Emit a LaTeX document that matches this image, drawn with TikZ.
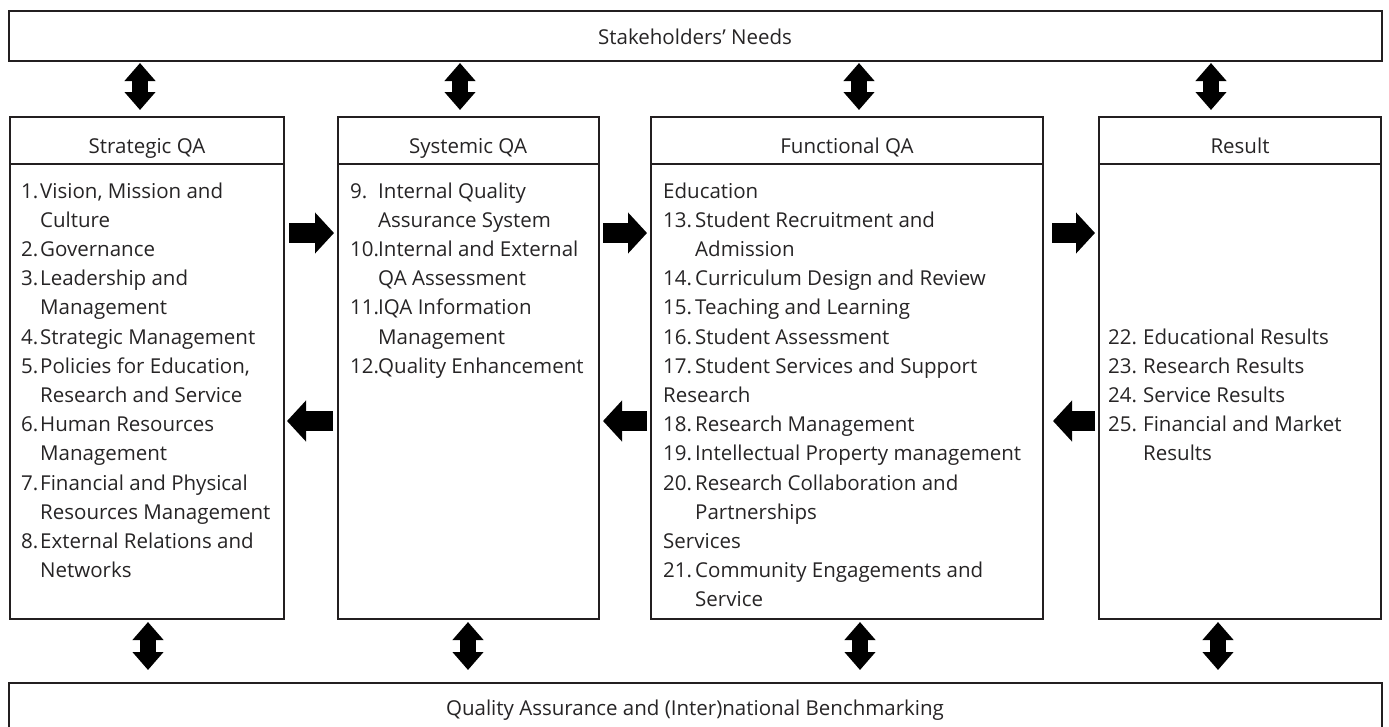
\documentclass[tikz,border=0pt]{standalone}
\usepackage{fontspec}
\setmainfont{Open Sans}
\usetikzlibrary{arrows.meta}
\definecolor{ln}{RGB}{35,31,32}
\definecolor{tx}{RGB}{38,36,37}
\newcommand\qaline[6]{%
  \node[txt] (#1n) at (#2,{198+29.2*#4}) {#5};
  \node[txt] (#1t) at (#3,{198+29.2*#4}) {#6};}
\newcommand\qatext[4]{%
  \node[txt] (#1) at (#2,{198+29.2*#3}) {#4};}
\begin{document}
\begin{tikzpicture}[x=1pt,y=-1pt,
  box/.style={draw=ln, line width=2.9pt, inner sep=0pt, outer sep=0pt, anchor=north west},
  txt/.style={anchor=base west, inner sep=0pt, text=tx, font=\fontsize{20.5}{22}\selectfont},
  head/.style={anchor=base, inner sep=0pt, text=tx, font=\fontsize{20.5}{22}\selectfont},
  dbl/.style={line width=16pt, draw=black, {Triangle[width=30pt,length=18pt]}-{Triangle[width=30pt,length=18pt]}},
  rarr/.style={line width=20pt, draw=black, -{Triangle[width=40pt,length=19pt]}},
]
\useasboundingbox (0,0) rectangle (1389,726);
\clip (0,0) rectangle (1389,726);

% boxes
\node[box, minimum width=1373pt, minimum height=50pt] (top) at (9,11) {};
\node[box, minimum width=1373pt, minimum height=48pt] (bot) at (9,683) {};
\node[box, minimum width=274pt, minimum height=47pt] (sh) at (10,117) {};
\node[box, minimum width=274pt, minimum height=455pt] (sb) at (10,164) {};
\node[box, minimum width=261pt, minimum height=47pt] (yh) at (338,117) {};
\node[box, minimum width=261pt, minimum height=455pt] (yb) at (338,164) {};
\node[box, minimum width=392pt, minimum height=47pt] (fh) at (651,117) {};
\node[box, minimum width=392pt, minimum height=455pt] (fb) at (651,164) {};
\node[box, minimum width=282pt, minimum height=47pt] (rh) at (1099,117) {};
\node[box, minimum width=282pt, minimum height=455pt] (rb) at (1099,164) {};

% titles
\node[head] (topT) at (695,44) {Stakeholders’ Needs};
\node[head] (botT) at (695,715) {Quality Assurance and (Inter)national Benchmarking};
\node[head] (shT) at (147,153) {Strategic QA};
\node[head] (yhT) at (468,153) {Systemic QA};
\node[head] (fhT) at (847,153) {Functional QA};
\node[head] (rhT) at (1240,153) {Result};

% Strategic QA
\qaline{s1}{21}{40}{0}{1.}{Vision, Mission and}
\qatext{s1b}{40}{1}{Culture}
\qaline{s2}{21}{40}{2}{2.}{Governance}
\qaline{s3}{21}{40}{3}{3.}{Leadership and}
\qatext{s3b}{40}{4}{Management}
\qaline{s4}{21}{40}{5}{4.}{Strategic Management}
\qaline{s5}{21}{40}{6}{5.}{Policies for Education,}
\qatext{s5b}{40}{7}{Research and Service}
\qaline{s6}{21}{40}{8}{6.}{Human Resources}
\qatext{s6b}{40}{9}{Management}
\qaline{s7}{21}{40}{10}{7.}{Financial and Physical}
\qatext{s7b}{40}{11}{Resources Management}
\qaline{s8}{21}{40}{12}{8.}{External Relations and}
\qatext{s8b}{40}{13}{Networks}

% Systemic QA
\qaline{y9}{350}{378}{0}{9.}{Internal Quality}
\qatext{y9b}{378}{1}{Assurance System}
\qaline{y10}{350}{378}{2}{10.}{Internal and External}
\qatext{y10b}{378}{3}{QA Assessment}
\qaline{y11}{350}{378}{4}{11.}{IQA Information}
\qatext{y11b}{378}{5}{Management}
\qaline{y12}{350}{378}{6}{12.}{Quality Enhancement}

% Functional QA
\qatext{fE}{663}{0}{Education}
\qaline{f13}{663}{695}{1}{13.}{Student Recruitment and}
\qatext{f13b}{695}{2}{Admission}
\qaline{f14}{663}{695}{3}{14.}{Curriculum Design and Review}
\qaline{f15}{663}{695}{4}{15.}{Teaching and Learning}
\qaline{f16}{663}{695}{5}{16.}{Student Assessment}
\qaline{f17}{663}{695}{6}{17.}{Student Services and Support}
\qatext{fR}{663}{7}{Research}
\qaline{f18}{663}{695}{8}{18.}{Research Management}
\qaline{f19}{663}{695}{9}{19.}{Intellectual Property management}
\qaline{f20}{663}{695}{10}{20.}{Research Collaboration and}
\qatext{f20b}{695}{11}{Partnerships}
\qatext{fS}{663}{12}{Services}
\qaline{f21}{663}{695}{13}{21.}{Community Engagements and}
\qatext{f21b}{695}{14}{Service}

% Result
\qaline{r22}{1108}{1143}{5}{22.}{Educational Results}
\qaline{r23}{1108}{1143}{6}{23.}{Research Results}
\qaline{r24}{1108}{1143}{7}{24.}{Service Results}
\qaline{r25}{1108}{1143}{8}{25.}{Financial and Market}
\qatext{r25b}{1143}{9}{Results}

% vertical double arrows
\coordinate (ta1) at (140,0); \coordinate (ta2) at (460,0);
\coordinate (ta3) at (859,0); \coordinate (ta4) at (1211,0);
\coordinate (ba1) at (148,0); \coordinate (ba2) at (468,0);
\coordinate (ba3) at (860,0); \coordinate (ba4) at (1218,0);
\draw[dbl, shorten <=2pt, shorten >=7pt] (top.south -| ta1) -- (sh.north -| ta1);
\draw[dbl, shorten <=2pt, shorten >=7pt] (top.south -| ta2) -- (yh.north -| ta2);
\draw[dbl, shorten <=2pt, shorten >=7pt] (top.south -| ta3) -- (fh.north -| ta3);
\draw[dbl, shorten <=2pt, shorten >=7pt] (top.south -| ta4) -- (rh.north -| ta4);
\draw[dbl, shorten <=3pt, shorten >=13pt] (sb.south -| ba1) -- (bot.north -| ba1);
\draw[dbl, shorten <=3pt, shorten >=13pt] (yb.south -| ba2) -- (bot.north -| ba2);
\draw[dbl, shorten <=3pt, shorten >=13pt] (fb.south -| ba3) -- (bot.north -| ba3);
\draw[dbl, shorten <=3pt, shorten >=13pt] (rb.south -| ba4) -- (bot.north -| ba4);

% horizontal arrows
\coordinate (hr) at (0,233); \coordinate (hl) at (0,421);
\draw[rarr, shorten <=5pt, shorten >=4pt] (sb.east |- hr) -- (yb.west |- hr);
\draw[rarr, shorten <=4pt, shorten >=4pt] (yb.east |- hr) -- (fb.west |- hr);
\draw[rarr, shorten <=9pt, shorten >=4pt] (fb.east |- hr) -- (rb.west |- hr);
\draw[rarr, shorten <=5pt, shorten >=3pt] (yb.west |- hl) -- (sb.east |- hl);
\draw[rarr, shorten <=4pt, shorten >=4pt] (fb.west |- hl) -- (yb.east |- hl);
\draw[rarr, shorten <=4pt, shorten >=10pt] (rb.west |- hl) -- (fb.east |- hl);
\end{tikzpicture}
\end{document}
